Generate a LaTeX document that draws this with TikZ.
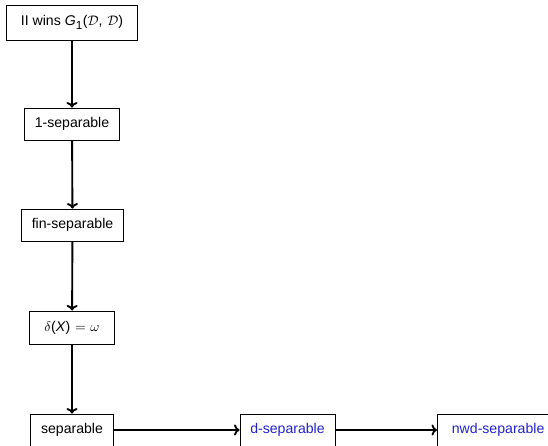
\documentclass[tikz,border=0pt]{standalone}
\usepackage{fontspec}
\setmainfont{Liberation Sans}
\usetikzlibrary{arrows.meta}
\definecolor{linkblue}{RGB}{34,34,204}
\begin{document}
\begin{tikzpicture}[x=0.7236pt,y=-0.7236pt,
  box/.style={draw,line width=0.55pt,inner xsep=7.5pt,inner ysep=0pt,
    minimum height=23.2pt,font=\fontsize{10.2}{12}\selectfont},
  arr/.style={-{To[length=4pt,width=8pt]},line width=1.35pt}]
\useasboundingbox (0,0) rectangle (548,445);
\node[box,minimum height=25.3pt,minimum width=94.8pt] (g) at (72,22.5)
  {II wins \textit{G}\textsubscript{\fontsize{8.5}{10}\selectfont 1}($\mathcal{D}$,\,\,$\mathcal{D}$)};
\node[box] (one) at (72,124) {1-separable};
\node[box] (fin) at (72.5,225) {fin-separable};
\node[box,minimum height=24pt,minimum width=61.5pt] (del) at (72,327.5)
  {$\delta$(\textit{X})\,\,$=$\,\,$\omega$};
\node[box] (sep) at (72,430) {separable};
\node[box,text=linkblue] (d) at (287.5,430) {d-separable};
\node[box,text=linkblue,anchor=west,inner xsep=10.5pt] (nwd) at (437,430) {nwd-separable};
\draw[arr] (g) -- (one);
\draw[arr] (one) -- (fin);
\draw[arr] (fin) -- (del);
\draw[arr] (del) -- (sep);
\draw[arr] (sep) -- (d);
\draw[arr] (d) -- (nwd);
\end{tikzpicture}
\end{document}
